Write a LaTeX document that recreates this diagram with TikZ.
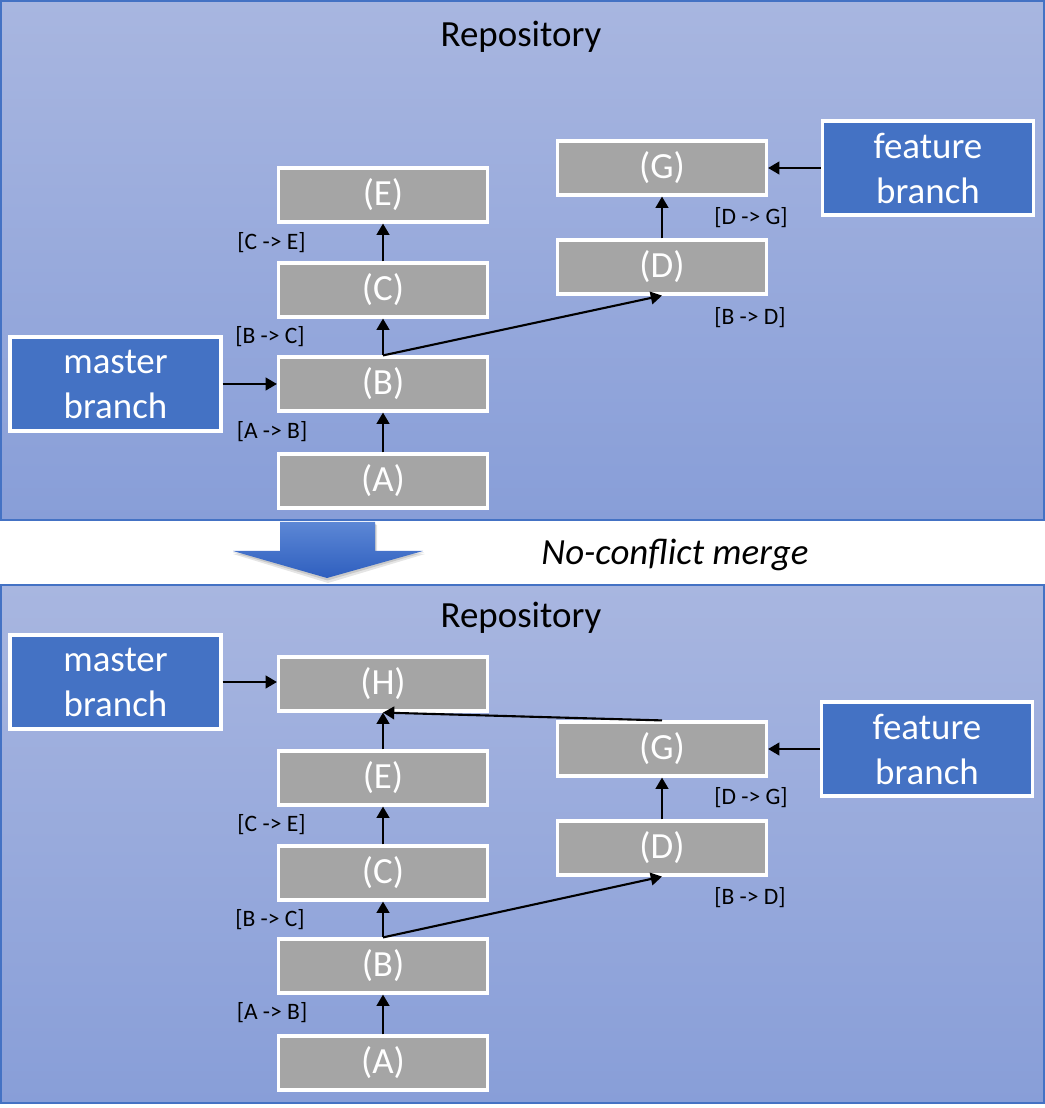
\documentclass[tikz,border=0pt]{standalone}
\usepackage{fontspec}
\setmainfont{Carlito}
\usetikzlibrary{arrows.meta}

\definecolor{repotop}{HTML}{A8B6E0}
\definecolor{repobot}{HTML}{889ED8}
\definecolor{branchblue}{HTML}{4472C4}
\definecolor{commitgray}{HTML}{A5A5A5}
\definecolor{mergetop}{HTML}{5C87D5}
\definecolor{mergebot}{HTML}{2F5FBF}

\tikzset{
  commit/.style={rectangle, draw=white, line width=0.9pt, fill=commitgray, text=white,
    minimum width=2.09cm, minimum height=0.54cm, inner sep=0pt,
    font=\fontsize{10.5}{12.6}\selectfont},
  branch/.style={rectangle, draw=white, line width=0.9pt, fill=branchblue, text=white,
    minimum width=2.11cm, minimum height=0.94cm, inner sep=0pt, align=center,
    font=\fontsize{10.5}{12.8}\selectfont},
  change/.style={inner sep=0pt, font=\fontsize{6.7}{8}\selectfont},
  title/.style={anchor=base, inner sep=0pt, font=\fontsize{10.5}{12.6}\selectfont},
  link/.style={-{Triangle[width=3.6pt,length=3.2pt]}, line width=0.6pt},
  repo/.style={draw=branchblue, line width=0.6pt, top color=repotop, bottom color=repobot},
}

\begin{document}
\begin{tikzpicture}
  \useasboundingbox (0,0) rectangle (10.45,11.08);

  % Top repository - before merge
  \begin{scope}
    \draw[repo] (0.01,5.88) rectangle (10.44,11.07);
    \node[title] (repo1) at (5.21,10.61) {Repository};

    \node[commit] (a1) at (3.83,6.27) {(A)};
    \node[commit] (b1) at (3.83,7.24) {(B)};
    \node[commit] (c1) at (3.83,8.18) {(C)};
    \node[commit] (e1) at (3.83,9.13) {(E)};
    \node[commit] (d1) at (6.62,8.41) {(D)};
    \node[commit] (g1) at (6.62,9.40) {(G)};

    \node[branch] (master1)  at (1.155,7.24) {master\\branch};
    \node[branch] (feature1) at (9.28,9.40)  {feature\\branch};

    \node[change] (ab1) at (2.72,6.76) {[A -> B]};
    \node[change] (bc1) at (2.70,7.71) {[B -> C]};
    \node[change] (ce1) at (2.715,8.65) {[C -> E]};
    \node[change] (bd1) at (7.50,7.90) {[B -> D]};
    \node[change] (dg1) at (7.51,8.90) {[D -> G]};

    \draw[link] (a1) -- (b1);
    \draw[link] (b1) -- (c1);
    \draw[link] (c1) -- (e1);
    \draw[link] (b1.north) -- (d1.south);
    \draw[link] (d1) -- (g1);

    \draw[link] (master1) -- (b1);
    \draw[link] (feature1) -- (g1);
  \end{scope}

  % Merge step
  \fill[black, opacity=0.10] (2.80,5.83) -- (3.77,5.83) -- (3.77,5.54) -- (4.25,5.54) -- (3.28,5.25) -- (2.33,5.54) -- (2.80,5.54) -- cycle;
  \fill[black, opacity=0.12] (2.80,5.84) -- (3.76,5.84) -- (3.76,5.555) -- (4.24,5.555) -- (3.275,5.275) -- (2.33,5.555) -- (2.80,5.555) -- cycle;
  \shade[top color=mergetop, bottom color=mergebot]
    (2.80,5.86) -- (3.75,5.86) -- (3.75,5.57) -- (4.23,5.57) -- (3.27,5.30) -- (2.33,5.57) -- (2.80,5.57) -- cycle;
  \node[title, font=\fontsize{10.5}{12.6}\selectfont\itshape] (merge) at (6.75,5.43) {No-conflict merge};

  % Bottom repository - after merge
  \begin{scope}
    \draw[repo] (0.01,0.05) rectangle (10.44,5.23);
    \node[title] (repo2) at (5.21,4.80) {Repository};

    \node[commit] (a2) at (3.83,0.45) {(A)};
    \node[commit] (b2) at (3.83,1.42) {(B)};
    \node[commit] (c2) at (3.83,2.35) {(C)};
    \node[commit] (e2) at (3.83,3.30) {(E)};
    \node[commit] (h2) at (3.83,4.24) {(H)};
    \node[commit] (d2) at (6.62,2.60) {(D)};
    \node[commit] (g2) at (6.62,3.59) {(G)};

    \node[branch] (master2)  at (1.155,4.26) {master\\branch};
    \node[branch] (feature2) at (9.27,3.59)  {feature\\branch};

    \node[change] (ab2) at (2.72,0.95) {[A -> B]};
    \node[change] (bc2) at (2.70,1.88) {[B -> C]};
    \node[change] (ce2) at (2.715,2.83) {[C -> E]};
    \node[change] (bd2) at (7.50,2.10) {[B -> D]};
    \node[change] (dg2) at (7.51,3.10) {[D -> G]};

    \draw[link] (a2) -- (b2);
    \draw[link] (b2) -- (c2);
    \draw[link] (c2) -- (e2);
    \draw[link] (e2) -- (h2);
    \draw[link] (b2.north) -- (d2.south);
    \draw[link] (d2) -- (g2);
    \draw[link] (g2.north) -- (h2.south);

    \draw[link] (master2) -- (h2.west |- master2);
    \draw[link] (feature2) -- (g2);
  \end{scope}
\end{tikzpicture}
\end{document}
